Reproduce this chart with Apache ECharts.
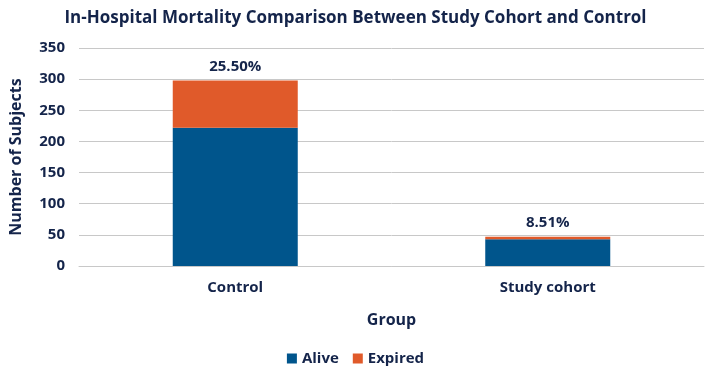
<!DOCTYPE html>
<html>
<head>
<meta charset="utf-8">
<script src="https://cdn.jsdelivr.net/npm/echarts@6/dist/echarts.min.js"></script>
<style>
  html, body { margin: 0; padding: 0; background: #fff; }
  #chart { width: 711px; height: 377px; }
</style>
</head>
<body>
<div id="chart"></div>
<script>
const categories = ['Control', 'Study cohort']
const aliveValues = [222, 43]
const expiredValues = [76, 4]
const percentLabels = ['25.50%', '8.51%']

const textColor = '#14244a'
const font = 'Open Sans'

const chart = echarts.init(document.getElementById('chart'))

chart.setOption({
    animation: false,
    title: {
        text: 'In-Hospital Mortality Comparison Between Study Cohort and Control',
        left: 'center',
        top: 5,
        textStyle: {
            fontFamily: font,
            fontSize: 17,
            fontWeight: 'bold',
            color: textColor
        }
    },
    legend: {
        bottom: 6,
        left: 'center',
        icon: 'rect',
        itemWidth: 10,
        itemHeight: 10,
        itemGap: 14,
        data: ['Alive', 'Expired'],
        textStyle: {
            fontFamily: font,
            fontSize: 15,
            fontWeight: 'bold',
            color: textColor
        }
    },
    grid: {
        top: 48,
        left: 75,
        right: 7,
        bottom: 111
    },
    xAxis: {
        type: 'category',
        data: categories,
        name: 'Group',
        nameLocation: 'middle',
        nameGap: 46,
        nameTextStyle: {
            fontFamily: font,
            fontSize: 16,
            fontWeight: 'bold',
            color: textColor
        },
        axisLine: {
            lineStyle: {
                color: '#c8c8c8'
            }
        },
        axisTick: {
            show: false
        },
        axisLabel: {
            margin: 14,
            fontFamily: font,
            fontSize: 15,
            fontWeight: 'bold',
            color: textColor
        }
    },
    yAxis: {
        type: 'value',
        min: 0,
        max: 350,
        interval: 50,
        name: 'Number of Subjects',
        nameLocation: 'middle',
        nameGap: 55,
        nameTextStyle: {
            fontFamily: font,
            fontSize: 16,
            fontWeight: 'bold',
            color: textColor
        },
        axisLabel: {
            margin: 14,
            fontFamily: font,
            fontSize: 15,
            fontWeight: 'bold',
            color: textColor
        },
        splitLine: {
            lineStyle: {
                color: '#c8c8c8'
            }
        }
    },
    series: [{
        name: 'Alive',
        type: 'bar',
        stack: 'total',
        barWidth: 125,
        itemStyle: {
            color: '#00558c'
        },
        data: aliveValues
    }, {
        name: 'Expired',
        type: 'bar',
        stack: 'total',
        barWidth: 125,
        itemStyle: {
            color: '#e05a2a'
        },
        label: {
            show: true,
            position: 'top',
            distance: 6,
            fontFamily: font,
            fontSize: 15,
            fontWeight: 'bold',
            color: textColor,
            formatter: p => percentLabels[p.dataIndex]
        },
        data: expiredValues
    }]
})
</script>
</body>
</html>
